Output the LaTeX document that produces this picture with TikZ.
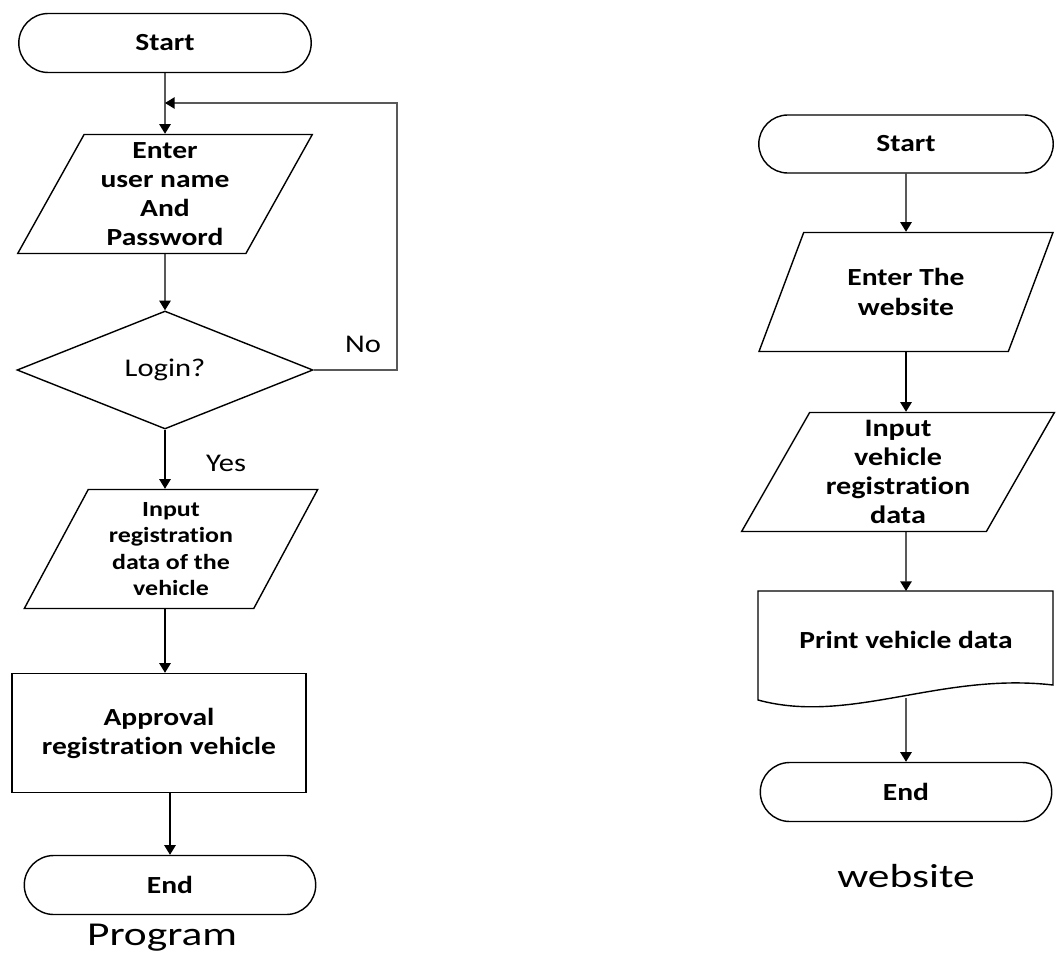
\documentclass[tikz,border=0pt]{standalone}
\usepackage{fontspec}
\setmainfont{Carlito}[FakeStretch=1.2, Ligatures=CommonOff]
\newfontfamily\capfont{Carlito}[FakeStretch=1.3]
\usetikzlibrary{shapes.geometric,shapes.misc,arrows.meta,positioning}

\tikzset{
  term/.style={draw, rounded rectangle, minimum width=5.92cm, minimum height=1.18cm, inner sep=1pt},
  iobox/.style={draw, trapezium, trapezium left angle=63, trapezium right angle=117,
    trapezium stretches=true, minimum width=5.9cm, minimum height=2.38cm, inner sep=1pt, align=center},
  decide/.style={draw, diamond, minimum width=5.92cm, minimum height=2.36cm, inner sep=0pt},
  procbox/.style={draw, rectangle, minimum width=5.88cm, minimum height=2.38cm, align=center},
  flow/.style={-{Triangle[width=6.5pt,length=5.5pt]}},
  back/.style={draw=black!65, line width=0.6pt},
}

\begin{document}
\begin{tikzpicture}[x=0.02cm, y=-0.02cm, line width=0.8pt,
  big/.style={font=\bfseries\fontsize{14}{16.5}\selectfont},
  small/.style={font=\bfseries\fontsize{12.3}{15}\selectfont},
  plain/.style={font=\fontsize{14.5}{16}\selectfont},
  caption/.style={font=\capfont\fontsize{19}{22}\selectfont}]
\useasboundingbox (0,0) rectangle (1057,956);

% Program
\node[term, big] (start1) at (165,43) {Start};
\node[iobox, big] (user) at (165,194) {Enter\\user name\\And\\Password};
\node[decide, plain] (login) at (165,370) {Login?};
\node[iobox, small, minimum width=5.88cm] (regdata) at (171,549) {Input\\registration\\data of the\\vehicle};
\node[procbox, big] (appr) at (159,733) {Approval\\registration vehicle};
\node[term, big, minimum width=5.9cm] (end1) at (170,885) {End};
\node[caption] (prog) at (162,938) {Program};
\coordinate (join) at (165,103);
\coordinate (turn) at (397,370);

\draw[flow] (start1) -- (user);
\draw[flow] (user) -- (login);
\draw[back] (login.east) -- (turn) |- (join);
\draw[flow] (join) ++(1,0) -- (join);
\draw[flow] (login.south) -- (login.south |- regdata.north);
\draw[flow] (login.south |- regdata.south) -- (login.south |- appr.north);
\draw[flow] (end1.north |- appr.south) -- (end1.north);
\node[plain] (no) at (363,344) {No};
\node[plain] (yes) at (226,463) {Yes};

% website
\node[term, big, minimum width=5.96cm, minimum height=1.16cm] (start2) at (906,144) {Start};
\node[iobox, big, font=\bfseries\fontsize{14}{17.5}\selectfont] (site) at (906,292) {Enter The\\website};
\node[iobox, big, minimum width=6.26cm, trapezium left angle=62, trapezium right angle=118,
  font=\bfseries\fontsize{14.3}{16.5}\selectfont] (input) at (898,472) {Input\\vehicle\\registration\\data};
\node[big] (print) at (906,640) {Print vehicle data};
\draw (758,700) -- (758,591) -- (1053,591) -- (1053,685)
  .. controls (940,672) and (850,725) .. cycle;
\coordinate (printtop) at (906,591);
\coordinate (printbot) at (906,698);
\node[term, big, minimum width=5.9cm] (end2) at (906,792) {End};
\node[caption] (web) at (906,876) {website};

\draw[flow] (start2) -- (site);
\draw[flow] (site.south) -- (site.south |- input.north);
\draw[flow] (site.south |- input.south) -- (printtop);
\draw[flow] (printbot) -- (end2);
\end{tikzpicture}
\end{document}
